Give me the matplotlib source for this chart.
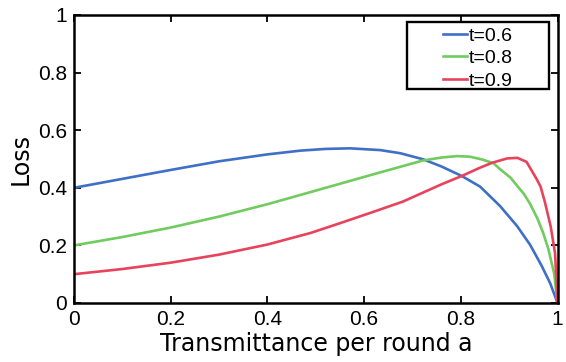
import numpy as np
import matplotlib as mpl
mpl.use('Agg')
import matplotlib.pyplot as plt
from matplotlib.patches import Rectangle

# values
a_blue = [0.0, 0.1, 0.2, 0.3, 0.4, 0.468, 0.52, 0.571, 0.633, 0.675, 0.722, 0.76,
          0.802, 0.84, 0.881, 0.916, 0.943, 0.967, 0.985, 1.0]
loss_blue = [0.40, 0.431, 0.462, 0.492, 0.516, 0.529, 0.535, 0.537, 0.531, 0.52, 0.499, 0.474,
             0.441, 0.404, 0.337, 0.268, 0.203, 0.13, 0.068, 0.0]

a_green = [0.0, 0.1, 0.2, 0.3, 0.4, 0.489, 0.55, 0.613, 0.675, 0.722, 0.76, 0.792, 0.819,
           0.845, 0.868, 0.881, 0.903, 0.916, 0.93, 0.943, 0.958, 0.97, 0.981, 0.993, 1.0]
loss_green = [0.20, 0.229, 0.262, 0.30, 0.343, 0.385, 0.414, 0.444, 0.473, 0.495, 0.505, 0.51, 0.508,
              0.498, 0.485, 0.465, 0.435, 0.408, 0.38, 0.345, 0.295, 0.245, 0.188, 0.103, 0.0]

a_red = [0.0, 0.1, 0.2, 0.3, 0.4, 0.489, 0.55, 0.62, 0.68, 0.72, 0.76, 0.802, 0.84, 0.865,
         0.896, 0.917, 0.936, 0.957, 0.965, 0.974, 0.986, 0.995, 1.0]
loss_red = [0.10, 0.118, 0.14, 0.168, 0.203, 0.243, 0.277, 0.317, 0.352, 0.382, 0.412, 0.441, 0.47, 0.487,
            0.502, 0.504, 0.49, 0.43, 0.404, 0.35, 0.265, 0.172, 0.0]

labels = ['t=0.6', 't=0.8', 't=0.9']
colors = ['#3f6fc6', '#70cc5e', '#e8435c']

fig = plt.figure(figsize=(5.66, 3.62), dpi=100)
ax = fig.add_axes([74/566, 1-303/362, 483.5/566, 288/362])

for x, y, lab, c in zip([a_blue, a_green, a_red], [loss_blue, loss_green, loss_red], labels, colors):
    ax.plot(x, y, color=c, linewidth=1.9, label=lab, solid_joinstyle='round')

ax.set_xlim(0, 1)
ax.set_ylim(0, 1)
ax.set_xticks([0, 0.2, 0.4, 0.6, 0.8, 1])
ax.set_xticklabels(['0', '0.2', '0.4', '0.6', '0.8', '1'])
ax.set_yticks([0, 0.2, 0.4, 0.6, 0.8, 1])
ax.set_yticklabels(['0', '0.2', '0.4', '0.6', '0.8', '1'])
ax.tick_params(axis='both', direction='in', top=True, right=True, length=5, width=1.3,
               labelsize=15, pad=5)
for lbl in ax.get_xticklabels() + ax.get_yticklabels():
    lbl.set_fontfamily('Liberation Sans')
for sp in ax.spines.values():
    sp.set_linewidth(1.8)

ax.set_xlabel('Transmittance per round a', fontsize=17, labelpad=2)
ax.set_ylabel('Loss', fontsize=17, labelpad=4)

# legend box is wider than its entries, so draw the frame separately
ax.add_patch(Rectangle((0.689, 0.743), 0.293, 0.232, transform=ax.transAxes,
                       facecolor='white', edgecolor='black', linewidth=1.7, zorder=4))
leg = ax.legend(loc='upper left', bbox_to_anchor=(0.764, 0.958), borderaxespad=0,
                prop={'family': 'Liberation Sans', 'size': 14}, handlelength=1.2,
                handletextpad=0.08, labelspacing=0.25, frameon=False, borderpad=0)
leg.set_zorder(5)

fig.savefig('out.png', dpi=100)
plt.close()
